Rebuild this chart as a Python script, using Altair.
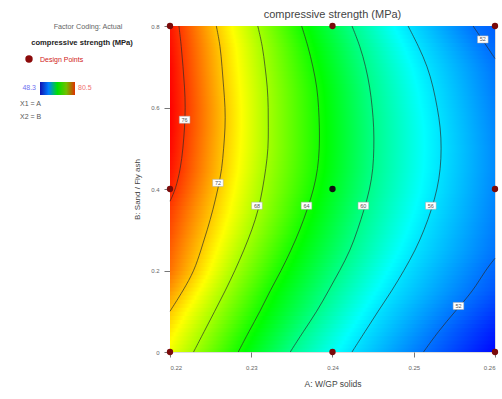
import altair as alt
import pandas as pd

# ---------------- data ----------------
X_DOMAIN = [0.22, 0.26]
Y_DOMAIN = [0.0, 0.8]
X_TICKS = [0.22, 0.23, 0.24, 0.25, 0.26]
Y_TICKS = [0.0, 0.2, 0.4, 0.6, 0.8]

# B levels at which contour positions were read
B_GRID = [0.0, 0.05, 0.10, 0.15, 0.20, 0.25, 0.30, 0.35, 0.40,
          0.45, 0.50, 0.55, 0.60, 0.65, 0.70, 0.75, 0.80]

# contour lines: A position (W/GP solids) at given B (sand / fly ash)
C76_B = [0.37, 0.40, 0.45, 0.50, 0.55, 0.60, 0.65, 0.70, 0.75, 0.80]
C76_A = [0.2200, 0.2207, 0.2213, 0.2216, 0.2218, 0.2219, 0.2218, 0.2216, 0.2214, 0.2211]

C72_B = [0.10, 0.15, 0.20, 0.25, 0.30, 0.35, 0.40, 0.45, 0.50, 0.55, 0.60, 0.65, 0.70, 0.75, 0.80]
C72_A = [0.2200, 0.2216, 0.2230, 0.2238, 0.2246, 0.2253, 0.2259, 0.2264, 0.2266,
         0.2268, 0.2268, 0.2266, 0.2264, 0.2262, 0.2257]

C68_B = B_GRID
C68_A = [0.2229, 0.2242, 0.2255, 0.2268, 0.2280, 0.2291, 0.2301, 0.2309, 0.2314,
         0.2318, 0.2321, 0.2321, 0.2321, 0.2320, 0.2317, 0.2314, 0.2308]

C64_B = B_GRID
C64_A = [0.2284, 0.2297, 0.2311, 0.2323, 0.2337, 0.2349, 0.2360, 0.2369, 0.2377,
         0.2382, 0.2384, 0.2384, 0.2383, 0.2381, 0.2376, 0.2370, 0.2362]

C60_B = B_GRID
C60_A = [0.2348, 0.2364, 0.2381, 0.2395, 0.2409, 0.2422, 0.2431, 0.2439, 0.2446,
         0.2450, 0.2451, 0.2451, 0.2449, 0.2446, 0.2441, 0.2434, 0.2424]

C56_B = B_GRID
C56_A = [0.2424, 0.2440, 0.2456, 0.2473, 0.2488, 0.2502, 0.2513, 0.2522, 0.2529,
         0.2533, 0.2534, 0.2533, 0.2529, 0.2524, 0.2517, 0.2506, 0.2493]

C52L_B = [0.00, 0.05, 0.10, 0.15, 0.20, 0.23]
C52L_A = [0.2512, 0.2530, 0.2551, 0.2573, 0.2588, 0.2600]
C52H_B = [0.72, 0.75, 0.80]
C52H_A = [0.2600, 0.2590, 0.2573]

CONTOURS = [
    ("c76", 76, C76_B, C76_A),
    ("c72", 72, C72_B, C72_A),
    ("c68", 68, C68_B, C68_A),
    ("c64", 64, C64_B, C64_A),
    ("c60", 60, C60_B, C60_A),
    ("c56", 56, C56_B, C56_A),
    ("c52a", 52, C52L_B, C52L_A),
    ("c52b", 52, C52H_B, C52H_A),
]

# estimated response at the left (A=0.22) and right (A=0.26) edges at each B_GRID level
LEFT_EDGE = [70.1, 71.0, 72.0, 73.3, 74.4, 74.9, 75.4, 75.85, 76.6,
             77.0, 77.3, 77.45, 77.5, 77.45, 77.4, 77.2, 77.0]
RIGHT_EDGE = [48.2, 49.0, 50.0, 51.0, 51.6, 52.1, 52.4, 52.6, 52.8,
              52.9, 52.9, 52.8, 52.6, 52.4, 52.15, 51.8, 51.4]

# contour labels
LABEL_A = [0.2218, 0.2259, 0.2307, 0.2368, 0.2438, 0.2521, 0.2555, 0.2585]
LABEL_B = [0.570, 0.415, 0.359, 0.359, 0.359, 0.359, 0.113, 0.767]
LABEL_T = ["76", "72", "68", "64", "60", "56", "52", "52"]

# design points
DESIGN_A = [0.22, 0.24, 0.26, 0.22, 0.24, 0.26, 0.22, 0.24, 0.26]
DESIGN_B = [0.8, 0.8, 0.8, 0.4, 0.4, 0.4, 0.0, 0.0, 0.0]
DESIGN_KIND = ["edge", "edge", "edge", "edge", "center", "edge", "edge", "edge", "edge"]

# colour map of the response (Design-Expert style rainbow)
CMAP_VALUES = [48.0, 57.0, 63.5, 70.5, 77.5]
CMAP_COLORS = ["#0000ff", "#00ffff", "#00ff00", "#ffff00", "#ff0000"]

LEGEND_MIN = "48.3"
LEGEND_MAX = "80.5"

FONT = "Liberation Sans"
SUB = 5  # rendering sub-strips between two read rows


# ---------------- helpers ----------------
def hex2rgb(h):
    return tuple(int(h[i:i + 2], 16) for i in (1, 3, 5))


def cmap(v):
    if v <= CMAP_VALUES[0]:
        return CMAP_COLORS[0]
    if v >= CMAP_VALUES[-1]:
        return CMAP_COLORS[-1]
    for i in range(len(CMAP_VALUES) - 1):
        a, b = CMAP_VALUES[i], CMAP_VALUES[i + 1]
        if a <= v <= b:
            t = (v - a) / (b - a)
            c1, c2 = hex2rgb(CMAP_COLORS[i]), hex2rgb(CMAP_COLORS[i + 1])
            c = [round(c1[j] + (c2[j] - c1[j]) * t) for j in range(3)]
            return "#%02x%02x%02x" % tuple(c)


def offset_of(a):
    return (a - X_DOMAIN[0]) / (X_DOMAIN[1] - X_DOMAIN[0])


def row_stops(k):
    b = B_GRID[k]
    stops = [(0.0, LEFT_EDGE[k])]
    for _, lev, bs, As in CONTOURS:
        for bb, aa in zip(bs, As):
            if abs(bb - b) < 1e-9:
                stops.append((offset_of(aa), lev))
    stops.append((1.0, RIGHT_EDGE[k]))
    stops.sort(key=lambda s: s[0])
    return stops


def val_at(stops, o):
    for (o1, v1), (o2, v2) in zip(stops[:-1], stops[1:]):
        if o1 <= o <= o2:
            if o2 - o1 < 1e-12:
                return v2
            return v1 + (v2 - v1) * (o - o1) / (o2 - o1)
    return stops[-1][1]


def gradient_for(stops):
    full = [stops[0]]
    for (o1, v1), (o2, v2) in zip(stops[:-1], stops[1:]):
        if v1 != v2:
            for av in sorted(CMAP_VALUES, reverse=True):
                if min(v1, v2) < av < max(v1, v2):
                    full.append((o1 + (v1 - av) / (v1 - v2) * (o2 - o1), av))
        full.append((o2, v2))
    return alt.LinearGradient(
        gradient="linear", x1=0, x2=1, y1=0, y2=0,
        stops=[alt.GradientStop(color=cmap(v), offset=max(0.0, min(1.0, o))) for o, v in full])


x_axis = alt.Axis(values=X_TICKS, format=".2f", title="A: W/GP solids", grid=False,
                  domain=False, tickSize=5, tickColor="#777", labelFontSize=6,
                  labelColor="#666", labelPadding=7, titleFontSize=8.5,
                  titleFontWeight="normal", titleColor="#444", titlePadding=9,
                  labelFont=FONT, titleFont=FONT)
y_axis = alt.Axis(values=Y_TICKS, title="B: Sand / Fly ash", grid=False,
                  domain=False, tickSize=6, tickColor="#777", labelFontSize=6,
                  labelColor="#666", labelPadding=5, titleFontSize=8,
                  titleFontWeight="normal", titleColor="#444", titlePadding=9,
                  labelFont=FONT, titleFont=FONT,
                  labelExpr="datum.value == 0 ? '0' : format(datum.value, '.1f')")
xs = alt.Scale(domain=X_DOMAIN, nice=False, zero=False)
ys = alt.Scale(domain=Y_DOMAIN, nice=False, zero=False)

layers = []

# ---------------- background colour field (thin strips with gradients) ----------------
rows_stops = [row_stops(k) for k in range(len(B_GRID))]
for k in range(len(B_GRID) - 1):
    s1, s2 = rows_stops[k], rows_stops[k + 1]
    offs = sorted(set([o for o, _ in s1] + [o for o, _ in s2]))
    db = (B_GRID[k + 1] - B_GRID[k]) / SUB
    for j in range(SUB):
        t = (j + 0.5) / SUB
        stops = [(o, (1 - t) * val_at(s1, o) + t * val_at(s2, o)) for o in offs]
        lo = max(Y_DOMAIN[0], B_GRID[k] + j * db - 0.0015)
        hi = min(Y_DOMAIN[1], B_GRID[k] + (j + 1) * db + 0.0015)
        df = pd.DataFrame({"A": [X_DOMAIN[0]], "A2": [X_DOMAIN[1]], "B": [lo], "B2": [hi]})
        layers.append(
            alt.Chart(df).mark_rect(fill=gradient_for(stops), strokeWidth=0).encode(
                x=alt.X("A:Q", scale=xs, axis=x_axis),
                x2="A2:Q",
                y=alt.Y("B:Q", scale=ys, axis=y_axis),
                y2="B2:Q",
            )
        )

# ---------------- contour lines ----------------
rows = []
for name, lev, bs, As in CONTOURS:
    for i, (bb, aa) in enumerate(zip(bs, As)):
        rows.append({"seg": name, "A": aa, "B": bb, "i": i})
line_df = pd.DataFrame(rows)
layers.append(
    alt.Chart(line_df).mark_line(interpolate="basis", stroke="#2a2a2a",
                                 strokeWidth=0.8, opacity=0.85).encode(
        x=alt.X("A:Q", scale=xs, axis=x_axis),
        y=alt.Y("B:Q", scale=ys, axis=y_axis),
        detail="seg:N",
        order="i:Q",
    )
)

# ---------------- contour labels ----------------
lab_df = pd.DataFrame({"A": LABEL_A, "B": LABEL_B, "t": LABEL_T})
layers.append(
    alt.Chart(lab_df).mark_point(shape="M-1.5,-1H1.5V1H-1.5Z", filled=True, fill="white",
                                 stroke="#aaa", strokeWidth=0.5, size=50, opacity=1).encode(
        x=alt.X("A:Q", scale=xs, axis=x_axis),
        y=alt.Y("B:Q", scale=ys, axis=y_axis),
    )
)
layers.append(
    alt.Chart(lab_df).mark_text(fontSize=5.5, color="#555", font=FONT).encode(
        x=alt.X("A:Q", scale=xs, axis=x_axis),
        y=alt.Y("B:Q", scale=ys, axis=y_axis),
        text="t:N",
    )
)

# ---------------- design points ----------------
dp_df = pd.DataFrame({"A": DESIGN_A, "B": DESIGN_B, "kind": DESIGN_KIND})
layers.append(
    alt.Chart(dp_df).mark_circle(size=40, opacity=1).encode(
        x=alt.X("A:Q", scale=xs, axis=x_axis),
        y=alt.Y("B:Q", scale=ys, axis=y_axis),
        color=alt.Color("kind:N", scale=alt.Scale(domain=["edge", "center"],
                                                  range=["#7a0a0a", "#111111"]), legend=None),
    )
)

# ---------------- side legend (annotations) ----------------
one = pd.DataFrame({"d": [0]})


def note(text, x, y, size=7, color="#555", weight="normal", align="left"):
    return alt.Chart(one).mark_text(text=text, fontSize=size, color=color, fontWeight=weight,
                                    align=align, baseline="middle", font=FONT).encode(
        x=alt.value(x), y=alt.value(y))


layers.append(note("Factor Coding: Actual", -82, 1, size=7.2, color="#666", align="center"))
layers.append(note("compressive strength (MPa)", -88, 17, size=7.6, color="#222",
                   weight="bold", align="center"))
layers.append(alt.Chart(one).mark_circle(size=55, color="#8b0a0a", opacity=1).encode(
    x=alt.value(-141), y=alt.value(33)))
layers.append(note("Design Points", -130, 34, size=7, color="#d02020"))
bar_grad = alt.LinearGradient(
    gradient="linear", x1=0, x2=1, y1=0, y2=0,
    stops=[alt.GradientStop(color=c, offset=i / 4)
           for i, c in enumerate(["#1010b0", "#0080ff", "#00e000", "#70c000", "#e03000"])])
layers.append(alt.Chart(one).mark_rect(fill=bar_grad).encode(
    x=alt.value(-130), x2=alt.value(-95), y=alt.value(56), y2=alt.value(69)))
layers.append(note(LEGEND_MIN, -134, 62, size=7, color="#6f6ff0", align="right"))
layers.append(note(LEGEND_MAX, -92, 62, size=7, color="#f07070"))
layers.append(note("X1 = A", -150, 78, size=7, color="#555"))
layers.append(note("X2 = B", -150, 91, size=7, color="#555"))

chart = alt.layer(*layers).properties(
    width=325, height=326,
    title=alt.TitleParams("compressive strength (MPa)", fontSize=11, fontWeight="normal",
                          color="#444", anchor="middle", offset=3, font=FONT),
    autosize=alt.AutoSizeParams(type="none"),
    padding={"left": 170, "top": 26, "right": 7, "bottom": 47},
).configure_view(strokeWidth=0).configure(background="white")

chart.save("out.html", embed_options={"renderer": "svg", "actions": False})
